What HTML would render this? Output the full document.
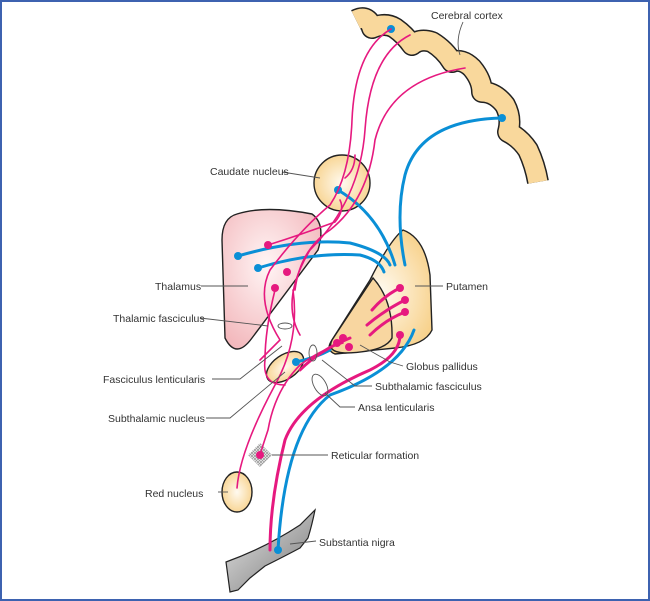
<!DOCTYPE html>
<html><head><meta charset="utf-8"><style>
html,body{margin:0;padding:0;background:#fff}
svg{display:block}
text{font-family:"Liberation Sans",sans-serif;font-size:10.5px;fill:#333}
</style></head><body>
<svg width="650" height="601" viewBox="0 0 650 601" xmlns="http://www.w3.org/2000/svg">
<defs>
<radialGradient id="or" cx="50%" cy="50%" r="60%"><stop offset="0" stop-color="#fffaf0"/><stop offset="1" stop-color="#f7cf85"/></radialGradient>
<radialGradient id="pk" cx="45%" cy="40%" r="65%"><stop offset="0" stop-color="#fff5f5"/><stop offset="1" stop-color="#f3b9bd"/></radialGradient>
<linearGradient id="gr" x1="0" y1="0" x2="1" y2="1"><stop offset="0" stop-color="#e8e8e8"/><stop offset="1" stop-color="#777"/></linearGradient>
<pattern id="hx" width="3" height="3" patternUnits="userSpaceOnUse"><path d="M0,0L3,3M3,0L0,3" stroke="#999" stroke-width="0.8"/></pattern>
</defs>
<rect x="1" y="1" width="648" height="599" fill="none" stroke="#3d62b0" stroke-width="2"/>
<!-- cortex -->
<g fill="none" stroke-linecap="butt" stroke-linejoin="round">
<path id="cx" d="M356,20 Q368,14 372,28 Q385,22 395,28 Q405,35 412,45 Q420,38 432,42 Q445,50 452,62 Q462,58 472,68 Q482,80 482,92 Q495,92 505,105 Q512,118 508,132 Q520,138 528,150 Q535,165 538,182" stroke="#222" stroke-width="22"/>
<path d="M356,20 Q368,14 372,28 Q385,22 395,28 Q405,35 412,45 Q420,38 432,42 Q445,50 452,62 Q462,58 472,68 Q482,80 482,92 Q495,92 505,105 Q512,118 508,132 Q520,138 528,150 Q535,165 538,182" stroke="#f9d89c" stroke-width="19"/>
</g>
<!-- thalamus -->
<path d="M237,214 Q265,205 312,214 Q326,224 318,250 L252,338 Q236,360 225,338 L222,240 Q222,218 237,214 Z" fill="url(#pk)" stroke="#222" stroke-width="1.4"/>
<!-- putamen -->
<path d="M403,230 Q425,238 430,275 L432,330 Q425,345 395,348 L335,354 Q325,350 332,340 L370,280 Q390,240 403,230 Z" fill="url(#or)" stroke="#222" stroke-width="1.4"/>
<path d="M373,278 Q393,300 392,338 Q385,352 345,353 Q326,352 332,340 Z" fill="#f8d6a0" stroke="#222" stroke-width="1.4"/>
<!-- caudate -->
<circle cx="342" cy="183" r="28" fill="url(#or)" stroke="#222" stroke-width="1.4"/>
<!-- subthalamic -->
<ellipse cx="285" cy="367" rx="21" ry="12" transform="rotate(-35 285 367)" fill="url(#or)" stroke="#222" stroke-width="1.4"/>
<!-- red nucleus -->
<ellipse cx="237" cy="492" rx="15" ry="20" fill="url(#or)" stroke="#222" stroke-width="1.4"/>
<!-- reticular -->
<path d="M260,443 L272,455 L260,467 L248,455 Z" fill="url(#hx)"/>
<!-- substantia nigra -->
<path d="M226,562 Q265,548 300,525 L315,510 Q312,525 308,538 L300,548 Q285,556 265,566 L250,578 L238,590 L230,592 Z" fill="url(#gr)" stroke="#222" stroke-width="1.2"/>
<!-- blue fibers -->
<g fill="none" stroke="#0a8fd6" stroke-width="3" stroke-linecap="round">
<path d="M502,118 Q420,120 405,175 Q395,215 405,265"/>
<path d="M338,190 Q380,215 395,265"/>
<path d="M238,256 Q300,238 350,243 Q385,252 390,265"/>
<path d="M258,268 Q310,252 360,255 Q380,260 384,272"/>
<path d="M414,330 Q400,370 330,395 Q285,430 278,550"/>
<path d="M296,362 Q315,358 330,350"/>
</g>
<g fill="#0a8fd6"><circle cx="502" cy="118" r="4"/><circle cx="338" cy="190" r="4"/><circle cx="238" cy="256" r="4"/><circle cx="258" cy="268" r="4"/><circle cx="278" cy="550" r="4"/><circle cx="296" cy="362" r="4"/><circle cx="391" cy="29" r="4"/></g>
<!-- pink fibers -->
<g fill="none" stroke="#e6197f" stroke-width="1.6" stroke-linecap="round">
<path d="M391,29 Q355,50 352,120 Q350,175 330,205 Q300,230 270,270 Q255,300 280,340 Q270,350 260,360"/>
<path d="M410,35 Q370,55 365,130 Q360,200 310,250 Q280,300 300,335"/>
<path d="M465,68 Q390,80 375,140 Q368,200 330,230 Q300,250 295,290"/>
<path d="M345,178 Q355,170 355,155"/>
<path d="M340,200 Q345,210 335,222 Q300,235 268,245"/>
<path d="M275,290 Q265,330 265,360 Q262,385 285,385"/>
<path d="M293,290 Q300,340 275,385 Q240,450 237,488"/>
<path d="M343,343 Q320,350 300,365 Q275,390 268,430 Q262,448 260,455"/>
</g>
<g fill="none" stroke="#e6197f" stroke-width="3" stroke-linecap="round">
<path d="M400,288 Q385,295 372,310"/>
<path d="M405,300 Q385,310 367,325"/>
<path d="M405,312 Q385,320 370,335"/>
<path d="M400,335 Q400,355 370,370 Q300,400 285,440 Q270,500 270,550"/>
<path d="M350,338 Q320,350 300,370"/>
</g>
<g fill="#e6197f"><circle cx="268" cy="245" r="4"/><circle cx="275" cy="288" r="4"/><circle cx="287" cy="272" r="4"/><circle cx="400" cy="288" r="4"/><circle cx="405" cy="300" r="4"/><circle cx="405" cy="312" r="4"/><circle cx="400" cy="335" r="4"/><circle cx="343" cy="338" r="4"/><circle cx="337" cy="343" r="4"/><circle cx="349" cy="347" r="4"/><circle cx="260" cy="455" r="4"/></g>
<!-- leader lines -->
<g stroke="#555" stroke-width="0.9" fill="none">
<path d="M463,22 Q455,40 460,55"/>
<path d="M282,172 L320,178"/>
<path d="M201,286 L248,286"/>
<path d="M200,318 L268,326"/>
<ellipse cx="285" cy="326" rx="7" ry="3"/>
<path d="M212,379 L240,379 L282,346"/>
<ellipse cx="313" cy="353" rx="4" ry="8"/>
<path d="M206,418 L230,418 L285,372"/>
<path d="M415,286 L443,286"/>
<path d="M360,345 L390,362 L403,366"/>
<path d="M322,360 L355,386 L372,386"/>
<ellipse cx="320" cy="385" rx="6" ry="12" transform="rotate(-30 320 385)"/>
<path d="M325,393 L340,407 L355,407"/>
<path d="M272,455 L328,455"/>
<path d="M218,492 L228,492"/>
<path d="M290,544 L316,541"/>
</g>
<text x="431" y="19">Cerebral cortex</text>
<text x="210" y="175">Caudate nucleus</text>
<text x="155" y="290">Thalamus</text>
<text x="113" y="322">Thalamic fasciculus</text>
<text x="103" y="383">Fasciculus lenticularis</text>
<text x="108" y="422">Subthalamic nucleus</text>
<text x="446" y="290">Putamen</text>
<text x="406" y="370">Globus pallidus</text>
<text x="375" y="390">Subthalamic fasciculus</text>
<text x="358" y="411">Ansa lenticularis</text>
<text x="331" y="459">Reticular formation</text>
<text x="145" y="497">Red nucleus</text>
<text x="319" y="546">Substantia nigra</text>
</svg>
</body></html>
